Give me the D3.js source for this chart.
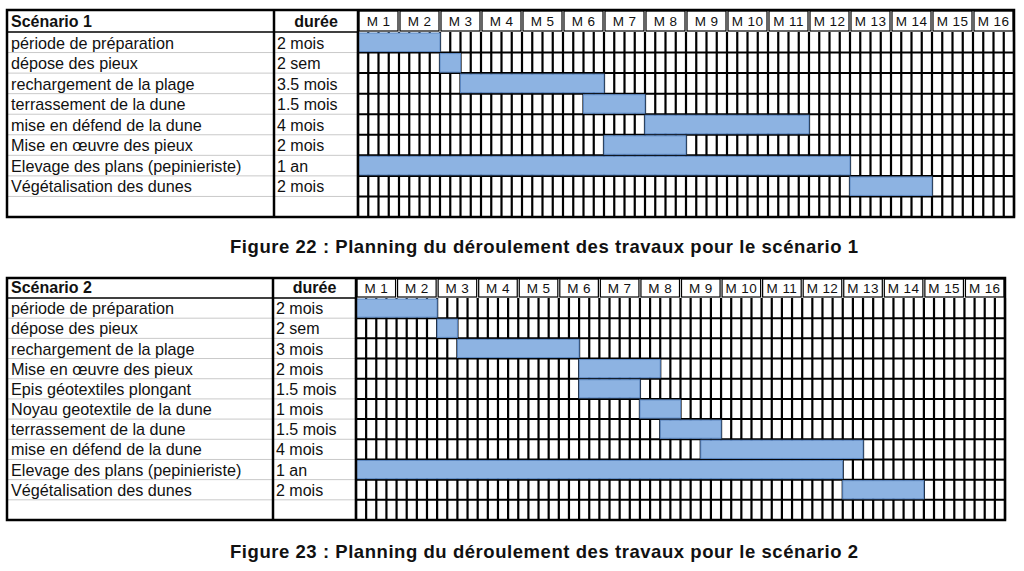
<!DOCTYPE html>
<html>
<head>
<meta charset="utf-8">
<script src="https://cdn.jsdelivr.net/npm/d3@7"></script>
<style>
  body { margin: 0; background: #fff; }
  text { font-family: "Liberation Sans", Arial, sans-serif; fill: #111; }
</style>
</head>
<body>
<svg id="chart" width="1024" height="571"></svg>
<script>
/*
Planning data, months in fractions (0 = start of M 1).
 */
const months = d3.range(1, 17).map(m => "M " + m);

const tasks1 = ["période de préparation", "dépose des pieux", "rechargement de la plage",
    "terrassement de la dune", "mise en défend de la dune", "Mise en œuvre des pieux",
    "Elevage des plans (pepinieriste)", "Végétalisation des dunes"];
const durees1 = ["2 mois", "2 sem", "3.5 mois", "1.5 mois", "4 mois", "2 mois", "1 an", "2 mois"];
const starts1 = [0, 2, 2.5, 5.5, 7, 6, 0, 12];
const ends1 = [2, 2.5, 6, 7, 11, 8, 12, 14];

const tasks2 = ["période de préparation", "dépose des pieux", "rechargement de la plage",
    "Mise en œuvre des pieux", "Epis géotextiles plongant", "Noyau geotextile de la dune",
    "terrassement de la dune", "mise en défend de la dune", "Elevage des plans (pepinieriste)",
    "Végétalisation des dunes"];
const durees2 = ["2 mois", "2 sem", "3 mois", "2 mois", "1.5 mois", "1 mois", "1.5 mois", "4 mois", "1 an", "2 mois"];
const starts2 = [0, 2, 2.5, 5.5, 5.5, 7, 7.5, 8.5, 0, 12];
const ends2 = [2, 2.5, 5.5, 7.5, 7, 8, 9, 12.5, 12, 14];

const captions = ["Figure 22 : Planning du déroulement des travaux pour le scénario 1",
    "Figure 23 : Planning du déroulement des travaux pour le scénario 2"];

/*
Static constants
 */
const barFill = "#8db3e2";
const barStroke = "#5b87c2";
const weeksPerMonth = 4;

var svg = d3.select("#chart");

function drawPlanning(title, tasks, durees, starts, ends, caption, geo) {
    var g = svg.append("g");
    var nRows = tasks.length + 1; // one empty row at the bottom

    var x = d3.scaleLinear().domain([0, months.length]).range([geo.gridLeft, geo.right]);
    var y = d3.scaleBand().domain(d3.range(nRows)).range([geo.headerBottom, geo.bottom]);
    var rowH = y.bandwidth();

    //light separators in the label columns
    g.selectAll(".sep").data(d3.range(1, nRows)).join("line")
        .attr("x1", geo.left).attr("x2", geo.gridLeft)
        .attr("y1", d => y(d)).attr("y2", d => y(d))
        .attr("stroke", "#c9c9c9").attr("stroke-width", 1);

    //week grid
    var weeks = d3.range(0, months.length * weeksPerMonth + 1);
    g.selectAll(".wk").data(weeks).join("line")
        .attr("x1", d => x(d / weeksPerMonth)).attr("x2", d => x(d / weeksPerMonth))
        .attr("y1", geo.headerBottom).attr("y2", geo.bottom)
        .attr("stroke", "#000").attr("stroke-width", 2.2);
    g.selectAll(".hr").data(d3.range(1, nRows)).join("line")
        .attr("x1", geo.gridLeft).attr("x2", geo.right)
        .attr("y1", d => y(d)).attr("y2", d => y(d))
        .attr("stroke", "#000").attr("stroke-width", 2);

    //month header cells
    g.selectAll(".mcell").data(months).join("rect")
        .attr("x", (d, i) => x(i) + 1).attr("y", geo.top + 1)
        .attr("width", (d, i) => x(i + 1) - x(i) - 2)
        .attr("height", geo.headerBottom - geo.top - 2)
        .attr("fill", "#fff").attr("stroke", "#000").attr("stroke-width", 1.2);
    g.selectAll(".mlab").data(months).join("text")
        .attr("x", (d, i) => (x(i) + x(i + 1)) / 2)
        .attr("y", geo.top + (geo.headerBottom - geo.top) / 2 + 5)
        .attr("text-anchor", "middle").attr("font-size", 13.5)
        .attr("letter-spacing", 0.4)
        .text(d => d);

    //bars
    g.selectAll(".bar").data(tasks).join("rect")
        .attr("x", (d, i) => x(starts[i]))
        .attr("y", (d, i) => y(i) + 1)
        .attr("width", (d, i) => x(ends[i]) - x(starts[i]))
        .attr("height", rowH - 2)
        .attr("fill", barFill).attr("stroke", barStroke).attr("stroke-width", 1);

    //labels
    g.selectAll(".task").data(tasks).join("text")
        .attr("x", geo.left + 4).attr("y", (d, i) => y(i) + rowH - 4)
        .attr("font-size", 16.2).text(d => d);
    g.selectAll(".dur").data(durees).join("text")
        .attr("x", geo.colSplit + 3).attr("y", (d, i) => y(i) + rowH - 4)
        .attr("font-size", 16).text(d => d);

    //header texts
    g.append("text").attr("x", geo.left + 4).attr("y", geo.headerBottom - 5)
        .attr("font-size", 16).attr("font-weight", "bold").text(title);
    g.append("text").attr("x", (geo.colSplit + geo.gridLeft) / 2).attr("y", geo.headerBottom - 5)
        .attr("text-anchor", "middle")
        .attr("font-size", 16).attr("font-weight", "bold").text("durée");

    //heavy lines
    g.append("line").attr("x1", geo.left).attr("x2", geo.gridLeft)
        .attr("y1", geo.headerBottom).attr("y2", geo.headerBottom)
        .attr("stroke", "#000").attr("stroke-width", 1.5);
    [geo.colSplit, geo.gridLeft].forEach(function(cx) {
        g.append("line").attr("x1", cx).attr("x2", cx)
            .attr("y1", geo.top).attr("y2", geo.bottom)
            .attr("stroke", "#000").attr("stroke-width", 2.5);
    });
    g.append("rect").attr("x", geo.left).attr("y", geo.top)
        .attr("width", geo.right - geo.left).attr("height", geo.bottom - geo.top)
        .attr("fill", "none").attr("stroke", "#000").attr("stroke-width", 2.5);

    g.append("text").attr("x", 544).attr("y", geo.captionY)
        .attr("text-anchor", "middle").attr("font-size", 18.5).attr("font-weight", "bold")
        .attr("textLength", 628).attr("lengthAdjust", "spacing")
        .text(caption);
}

drawPlanning("Scénario 1", tasks1, durees1, starts1, ends1, captions[0],
    {left: 7, top: 10, colSplit: 274, gridLeft: 358, right: 1014, headerBottom: 32, bottom: 217, captionY: 253});
drawPlanning("Scénario 2", tasks2, durees2, starts2, ends2, captions[1],
    {left: 7, top: 278, colSplit: 273, gridLeft: 356, right: 1005, headerBottom: 298, bottom: 520, captionY: 558});
</script>
</body>
</html>
